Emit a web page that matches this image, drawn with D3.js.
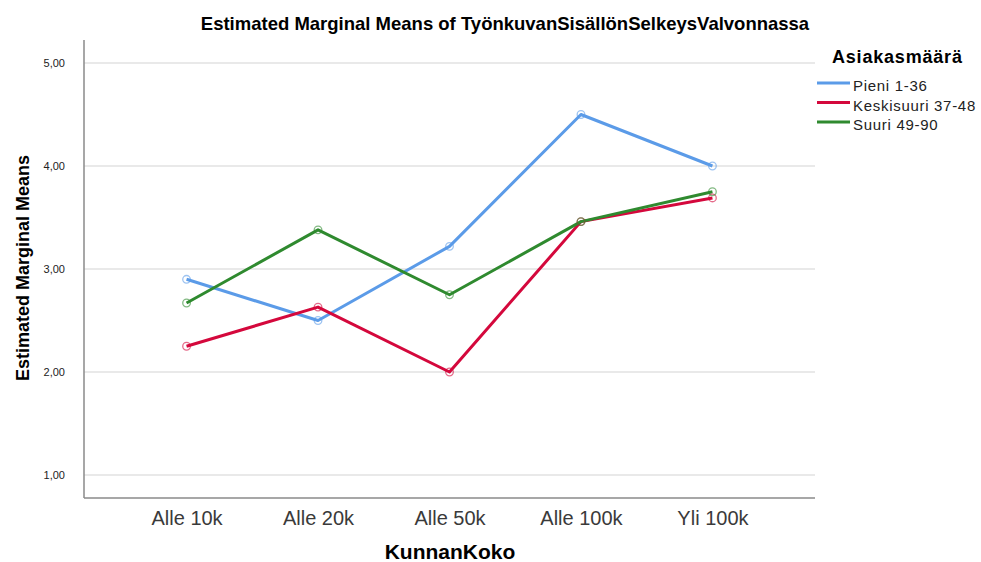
<!DOCTYPE html>
<html>
<head>
<meta charset="utf-8">
<script src="https://cdn.jsdelivr.net/npm/d3@7"></script>
<style>
  body { margin: 0; background: #fff; }
  text { font-family: "Liberation Sans", Arial, sans-serif; }
</style>
</head>
<body>
<div id="container"></div>
<script>
/* CONSTANTS AND GLOBALS */
const width = 981;
const height = 562;
const plot = { left: 84, right: 815, top: 40, bottom: 498 };

/* DATA */
const categories = ["Alle 10k", "Alle 20k", "Alle 50k", "Alle 100k", "Yli 100k"];
const seriesNames = ["Pieni 1-36", "Keskisuuri 37-48", "Suuri 49-90"];
const pieni = [2.90, 2.50, 3.22, 4.50, 4.00];
const keskisuuri = [2.25, 2.63, 2.00, 3.46, 3.69];
const suuri = [2.67, 3.38, 2.75, 3.46, 3.75];
const yTicks = [1, 2, 3, 4, 5];
const colors = ["#5b9be8", "#d4083c", "#2f8a2f"];

const series = [pieni, keskisuuri, suuri].map((vals, i) => ({
  name: seriesNames[i],
  color: colors[i],
  values: vals.map((v, j) => ({ cat: categories[j], value: v }))
}));

/* SCALES */
const xScale = d3.scalePoint()
  .domain(categories)
  .range([plot.left, plot.right])
  .padding(0.78);

const yScale = d3.scaleLinear()
  .domain([1, 5])
  .range([475, 63]);

const fmt = d => d3.format(".2f")(d).replace(".", ",");

/* SVG */
const svg = d3.select("#container")
  .append("svg")
  .attr("width", width)
  .attr("height", height);

// gridlines
svg.append("g")
  .selectAll("line")
  .data(yTicks)
  .join("line")
  .attr("x1", plot.left)
  .attr("x2", plot.right)
  .attr("y1", d => yScale(d))
  .attr("y2", d => yScale(d))
  .attr("stroke", "#d3d3d3")
  .attr("stroke-width", 1.2);

// y axis
const yAxis = d3.axisLeft(yScale)
  .tickValues(yTicks)
  .tickFormat(fmt)
  .tickSize(0)
  .tickPadding(19);

svg.append("g")
  .attr("transform", `translate(${plot.left}, 0)`)
  .call(yAxis)
  .call(g => g.select(".domain").remove())
  .selectAll("text")
  .style("font-size", "11px")
  .attr("fill", "#222");

svg.append("line")
  .attr("x1", plot.left).attr("x2", plot.left)
  .attr("y1", plot.top).attr("y2", plot.bottom)
  .attr("stroke", "#8a8a8a").attr("stroke-width", 1.5);

// x axis
const xAxis = d3.axisBottom(xScale).tickSize(0).tickPadding(13);

svg.append("g")
  .attr("transform", `translate(0, ${plot.bottom})`)
  .call(xAxis)
  .call(g => g.select(".domain").remove())
  .selectAll("text")
  .style("font-size", "20px")
  .attr("fill", "#3a3a3a");

svg.append("line")
  .attr("x1", plot.left).attr("x2", plot.right)
  .attr("y1", plot.bottom).attr("y2", plot.bottom)
  .attr("stroke", "#8a8a8a").attr("stroke-width", 1.5);

// lines
const line = d3.line()
  .x(d => xScale(d.cat))
  .y(d => yScale(d.value));

svg.selectAll(".series")
  .data(series)
  .join("path")
  .attr("class", "series")
  .attr("d", d => line(d.values))
  .attr("fill", "none")
  .attr("stroke", d => d.color)
  .attr("stroke-width", 3)
  .attr("stroke-linejoin", "round");

// markers
series.forEach(s => {
  svg.append("g")
    .selectAll("circle")
    .data(s.values)
    .join("circle")
    .attr("cx", d => xScale(d.cat))
    .attr("cy", d => yScale(d.value))
    .attr("r", 3.8)
    .attr("fill", "none")
    .attr("stroke", s.color)
    .attr("stroke-opacity", 0.6)
    .attr("stroke-width", 1.3);
});

// titles
svg.append("text")
  .attr("x", 505).attr("y", 30)
  .attr("text-anchor", "middle")
  .style("font-size", "18.5px").style("font-weight", "bold")
  .text("Estimated Marginal Means of TyönkuvanSisällönSelkeysValvonnassa");

svg.append("text")
  .attr("x", 450).attr("y", 559)
  .attr("text-anchor", "middle")
  .style("font-size", "21px").style("font-weight", "bold")
  .text("KunnanKoko");

svg.append("text")
  .attr("transform", `translate(29, 268) rotate(-90)`)
  .attr("text-anchor", "middle")
  .style("font-size", "18px").style("font-weight", "bold")
  .text("Estimated Marginal Means");

// legend
const legend = svg.append("g").attr("transform", "translate(817, 0)");

legend.append("text")
  .attr("x", 15).attr("y", 63)
  .style("font-size", "18px").style("font-weight", "bold")
  .style("letter-spacing", "0.8px")
  .text("Asiakasmäärä");

legend.selectAll(".item")
  .data(series)
  .join("g")
  .attr("class", "item")
  .attr("transform", (d, i) => `translate(0, ${83 + i * 19.5})`)
  .each(function(d) {
    const g = d3.select(this);
    g.append("line")
      .attr("x1", 0).attr("x2", 33)
      .attr("stroke", d.color).attr("stroke-width", 3);
    g.append("text")
      .attr("x", 36).attr("y", 8)
      .style("font-size", "15px").attr("fill", "#222")
      .style("letter-spacing", "0.7px")
      .text(d.name);
  });
</script>
</body>
</html>
